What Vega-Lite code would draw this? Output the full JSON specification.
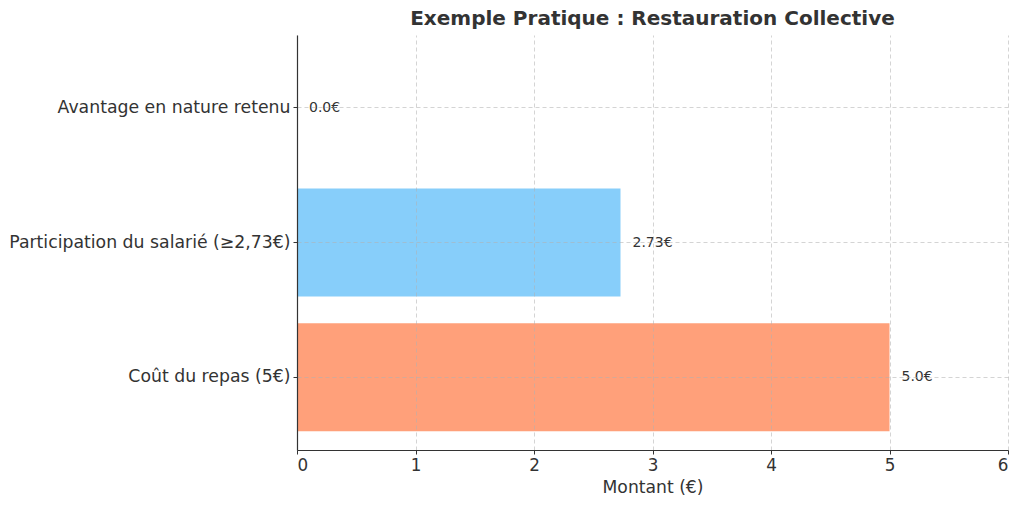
{
  "$schema": "https://vega.github.io/schema/vega-lite/v6.json",
  "width": 711,
  "height": 415,
  "autosize": {"type": "none"},
  "padding": {"left": 297, "top": 35, "right": 16, "bottom": 57},
  "background": "white",
  "config": {"view": {"stroke": null}, "font": "DejaVu Sans"},
  "title": {"text": "Exemple Pratique : Restauration Collective", "font": "DejaVu Sans", "fontSize": 20, "fontWeight": "bold", "color": "#333333", "anchor": "middle", "offset": 6},
  "data": {"values": [
    {"cat": "Coût du repas (5€)", "val": 5.0, "label": "5.0€"},
    {"cat": "Participation du salarié (≥2,73€)", "val": 2.73, "label": "2.73€"},
    {"cat": "Avantage en nature retenu", "val": 0.0, "label": "0.0€"}
  ]},
  "encoding": {
    "y": {"field": "cat", "type": "nominal", "sort": ["Avantage en nature retenu", "Participation du salarié (≥2,73€)", "Coût du repas (5€)"],
      "scale": {"paddingInner": 0.2, "paddingOuter": 0.14},
      "axis": {"title": null, "labelFontSize": 17.3, "labelColor": "#333333", "labelPadding": 3, "tickSize": 4, "tickColor": "#333333", "domainColor": "#333333", "domainWidth": 1.2, "grid": true, "gridDash": [4, 3], "gridColor": "#b0b0b0", "gridOpacity": 0.55, "zindex": 1, "labelLimit": 400}},
    "x": {"field": "val", "type": "quantitative", "scale": {"domain": [0, 6], "nice": false},
      "axis": {"title": "Montant (€)", "titleFontSize": 17.2, "titleFontWeight": "normal", "titleColor": "#333333", "titlePadding": 5, "labelFontSize": 16.8, "labelColor": "#333333", "values": [0,1,2,3,4,5,6], "format": "d", "tickSize": 4, "tickColor": "#333333", "domainColor": "#333333", "domainWidth": 1.2, "grid": true, "gridDash": [4, 3], "gridColor": "#b0b0b0", "gridOpacity": 0.55, "zindex": 1, "labelPadding": 3}}
  },
  "layer": [
    {"mark": {"type": "bar"},
     "encoding": {"color": {"field": "cat", "type": "nominal", "legend": null,
       "scale": {"domain": ["Coût du repas (5€)", "Participation du salarié (≥2,73€)", "Avantage en nature retenu"], "range": ["#FFA07A", "#87CEFA", "#90EE90"]}}}},
    {"mark": {"type": "text", "align": "left", "baseline": "middle", "dx": 12, "fontSize": 14, "color": "#333333"},
     "encoding": {"text": {"field": "label"}}}
  ]
}
